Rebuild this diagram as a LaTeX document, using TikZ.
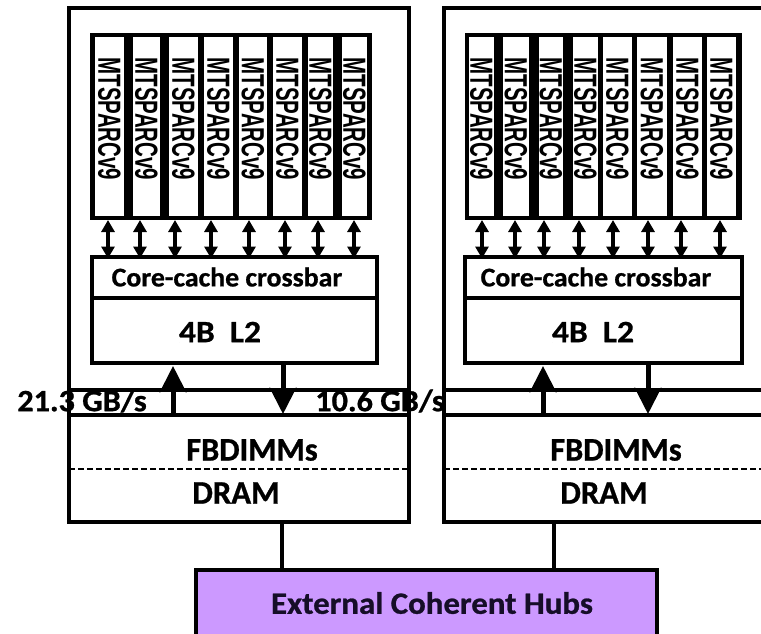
\documentclass[tikz,border=0pt]{standalone}
\usepackage{fontspec}
\setmainfont{Carlito}[BoldFeatures={FakeBold=0.8}]
\newfontfamily\arialf{Liberation Sans}
\usetikzlibrary{arrows.meta}
\definecolor{hubpurple}{RGB}{204,153,255}
\definecolor{hubtext}{RGB}{22,14,40}
\newcommand\hsx[2]{\scalebox{#1}[1]{#2}}
\begin{document}
\begin{tikzpicture}[x=1pt,y=-1pt,line join=miter,
  box/.style={draw=black,line width=3.5pt,inner sep=0pt,outer sep=0pt,fill=white},
  corebox/.style={fill=black,inner sep=0pt,outer sep=0pt},
  strip/.style={fill=white,inner sep=0pt,outer sep=0pt,minimum height=179pt},
  coretxt/.style={inner sep=0pt,rotate=-90,font=\arialf\bfseries\fontsize{32}{32}\selectfont},
  lbl/.style={inner sep=0pt,font=\bfseries\fontsize{31}{33}\selectfont},
  dbl/.style={line width=4pt,{Triangle[width=13pt,length=12pt]}-{Triangle[width=13pt,length=12pt]}},
  big/.style={line width=5pt,-{Stealth[width=26pt,length=26pt,inset=5pt]}},
  dashline/.style={line width=2pt,dash pattern=on 6pt off 3pt},
  link/.style={line width=3.5pt}]
\useasboundingbox (0,0) rectangle (761,633);
\fill[white] (0,0) rectangle (761,633);

% ---------- left chip ----------
\node[box,minimum width=340pt,minimum height=382pt] (chipL) at (239,199) {};
\node[box,minimum width=340pt,minimum height=107pt] (fbL) at (239,468.5) {};
\draw[link] (chipL.south west) -- (fbL.north west);
\draw[link] (chipL.south east) -- (fbL.north east);
\draw[dashline] (fbL.west) -- (fbL.east);

\node[corebox,minimum width=282pt,minimum height=187pt] (coresL) at (231,126.5) {};
\foreach \n/\cx/\w in {1/109.5/29,2/146.5/27,3/183.5/29,4/218.5/29,5/253/28,6/287.5/29,7/320.5/25,8/354.5/25}{
  \node[strip,minimum width=\w pt] (cL\n) at (\cx,126.5) {};
  \node[coretxt] (tL\n) at (\cx,119) {\hsx{0.64}{MTSPARCv9}};
}
\node[box,minimum width=285pt,minimum height=41pt] (xbL) at (234.5,277.5) {};
\node[box,minimum width=285pt,minimum height=65pt] (l2L) at (234.5,330.5) {};
\node[lbl,font=\bfseries\fontsize{27}{29}\selectfont] (xbtL) at (227,277) {\hsx{1.03}{Core-cache crossbar}};
\node[lbl] (l2tL) at (220,332) {\hsx{1.08}{4B\ \ L2}};
\foreach \n/\ax in {1/108,2/140,3/175,4/211,5/249,6/285,7/318,8/354}{
  \coordinate (aL\n) at (\ax,220);
  \draw[dbl] (aL\n) -- ([yshift=-1.5pt]aL\n |- xbL.north);
}
\coordinate (upL) at (173,0);
\coordinate (dnL) at (283,0);
\draw[big,shorten >=3pt] (fbL.north -| upL) -- (l2L.south -| upL);
\draw[big,shorten >=1pt] (l2L.south -| dnL) -- (fbL.north -| dnL);
\node[lbl] (bwL1) at (82,401) {\hsx{1.04}{21.3 GB/s}};
\node[lbl] (bwL2) at (380,401) {\hsx{1.04}{10.6 GB/s}};
\node[lbl,font=\bfseries\fontsize{33}{35}\selectfont] (fbtL) at (252,450) {\hsx{0.98}{FBDIMMs}};
\node[lbl,font=\bfseries\fontsize{33}{35}\selectfont] (drL) at (236,493) {\hsx{0.99}{DRAM}};

% ---------- right chip ----------
\node[box,minimum width=356pt,minimum height=382pt] (chipR) at (622,199) {};
\node[box,minimum width=356pt,minimum height=107pt] (fbR) at (622,468.5) {};
\draw[link] (chipR.south west) -- (fbR.north west);
\draw[dashline] (fbR.west) -- (fbR.east);

\node[corebox,minimum width=277pt,minimum height=187pt] (coresR) at (603.5,126.5) {};
\foreach \n/\cx/\w in {1/481.5/25,2/516/26,3/551/24,4/585.5/25,5/617.5/29,6/652/30,7/687.5/29,8/721.5/29}{
  \node[strip,minimum width=\w pt] (cR\n) at (\cx,126.5) {};
  \node[coretxt] (tR\n) at (\cx,119) {\hsx{0.64}{MTSPARCv9}};
}
\node[box,minimum width=277pt,minimum height=41pt] (xbR) at (603.5,277.5) {};
\node[box,minimum width=277pt,minimum height=65pt] (l2R) at (603.5,330.5) {};
\node[lbl,font=\bfseries\fontsize{27}{29}\selectfont] (xbtR) at (596,277) {\hsx{1.03}{Core-cache crossbar}};
\node[lbl] (l2tR) at (593,332) {\hsx{1.08}{4B\ \ L2}};
\foreach \n/\ax in {1/482,2/515,3/544,4/579,5/613,6/648,7/681,8/720}{
  \coordinate (aR\n) at (\ax,220);
  \draw[dbl] (aR\n) -- ([yshift=-1.5pt]aR\n |- xbR.north);
}
\coordinate (upR) at (543,0);
\coordinate (dnR) at (648,0);
\draw[big,shorten >=3pt] (fbR.north -| upR) -- (l2R.south -| upR);
\draw[big,shorten >=1pt] (l2R.south -| dnR) -- (fbR.north -| dnR);
\node[lbl,font=\bfseries\fontsize{33}{35}\selectfont] (fbtR) at (616,450) {\hsx{0.98}{FBDIMMs}};
\node[lbl,font=\bfseries\fontsize{33}{35}\selectfont] (drR) at (604,493) {\hsx{0.99}{DRAM}};

% ---------- hubs ----------
\node[box,fill=hubpurple,minimum width=461pt,minimum height=90pt] (hub) at (426.5,615) {};
\node[lbl,text=hubtext] (hubt) at (432,603) {\hsx{1.06}{External Coherent Hubs}};
\coordinate (cnL) at (282,0);
\coordinate (cnR) at (554,0);
\draw[link] (fbL.south -| cnL) -- (hub.north -| cnL);
\draw[link] (fbR.south -| cnR) -- (hub.north -| cnR);
\end{tikzpicture}
\end{document}
